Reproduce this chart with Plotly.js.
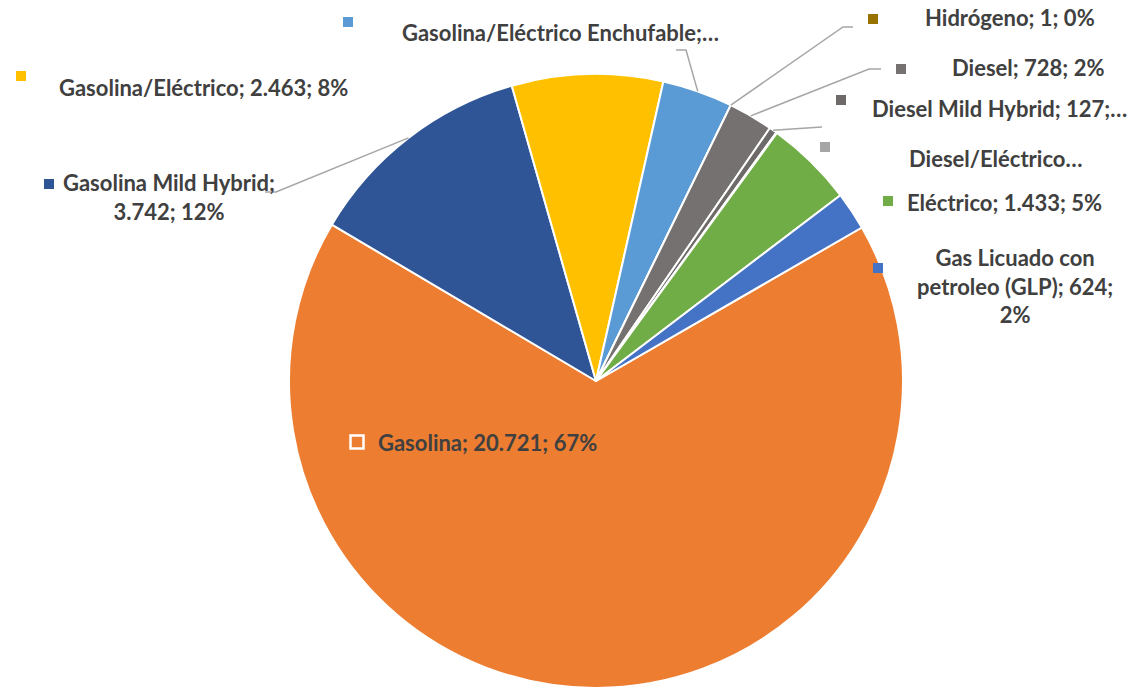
<!DOCTYPE html>
<html>
<head>
<meta charset="utf-8">
<script src="https://cdn.plot.ly/plotly-3.0.1.min.js"></script>
<style>html,body{margin:0;padding:0;overflow:hidden;background:#fff}</style>
</head>
<body>
<div id="chart" style="width:1133px;height:688px"></div>
<script>
// ---- data ----
const categories = ["Gasolina", "Gasolina Mild Hybrid", "Gasolina/Eléctrico", "Gasolina/Eléctrico Enchufable",
  "Hidrógeno", "Diesel", "Diesel Mild Hybrid", "Diesel/Eléctrico", "Eléctrico", "Gas Licuado con petroleo (GLP)"];
const values = [20721, 3742, 2463, 1150, 1, 728, 127, 12, 1433, 624];
const colors = ["#ED7D31", "#2F5597", "#FFC000", "#5B9BD5", "#997300", "#767171", "#6E6A6A", "#A5A5A5", "#70AD47", "#4472C4"];

// ---- geometry / style ----
const W = 1133, H = 688;
const CX = 596, CY = 381, R = 307;
const ROT = 60;
const textColor = "#404040";
const FONT = "Lato, 'Open Sans', sans-serif";
const FS = 22;

const total = values.reduce((a, b) => a + b, 0);
const fmt = v => v.toLocaleString('de-DE');
const pct = v => Math.round(v / total * 100) + "%";
const fullLabel = i => [categories[i], fmt(values[i]), pct(values[i])];

const labelSpec = [
  {i: 0, x: 376, y: 442, key: [357, 442], keyOutline: true},
  {i: 1, x: 169, y: 197, anchor: "center", key: [49, 184], breakAfter: 1, leader: [[276, 192], [265, 192]]},
  {i: 2, x: 57, y: 87, key: [21, 76]},
  {i: 3, x: 400, y: 33, key: [348, 22], parts: 1, leader: [[686, 50], [676, 50]]},
  {i: 4, x: 923, y: 17, key: [873, 19], leader: [[843, 27], [853, 27]]},
  {i: 5, x: 950, y: 67, key: [901, 69], leader: [[869, 69], [881, 69]]},
  {i: 6, x: 870, y: 109, key: [841, 100], parts: 2, leader: [[822, 127]]},
  {i: 7, x: 907, y: 159, key: [825, 147], parts: 0},
  {i: 8, x: 905, y: 202, key: [888, 201]},
  {i: 9, x: 1015, y: 286, anchor: "center", key: [878, 268], glp: true}
];

const midAngle = [];
let cum = 0;
values.forEach(v => { midAngle.push(ROT + (cum + v / 2) / total * 360); cum += v; });
const edgePoint = i => {
  const a = midAngle[i] * Math.PI / 180;
  return [CX + R * Math.sin(a), CY - R * Math.cos(a)];
};
const px = x => x / W, py = y => 1 - y / H;

const annotations = [], shapes = [];
labelSpec.forEach(s => {
  const p = fullLabel(s.i);
  let txt;
  if (s.parts === 0) txt = p[0] + "…";
  else if (s.parts) txt = p.slice(0, s.parts).join("; ") + ";…";
  else if (s.breakAfter) txt = p.slice(0, s.breakAfter).join("; ") + ";<br>" + p.slice(s.breakAfter).join("; ");
  else if (s.glp) {
    const w = p[0].split(" ");
    txt = w.slice(0, 3).join(" ") + "<br>" + w.slice(3).join(" ") + "; " + p[1] + ";<br>" + p[2];
  } else txt = p.join("; ");
  annotations.push({
    xref: "paper", yref: "paper", x: px(s.x), y: py(s.y),
    xanchor: s.anchor || "left", yanchor: "middle", align: s.anchor === "center" ? "center" : "left",
    text: "<b>" + txt + "</b>", showarrow: false,
    font: {family: FONT, size: FS, color: textColor}
  });
  const k = s.keyOutline ? 6.5 : 5;
  shapes.push({
    type: "rect", xref: "paper", yref: "paper",
    x0: px(s.key[0] - k), x1: px(s.key[0] + k), y0: py(s.key[1] - k), y1: py(s.key[1] + k),
    fillcolor: colors[s.i], line: s.keyOutline ? {color: "#ffffff", width: 2.5} : {width: 0}
  });
  if (s.leader) {
    const e = edgePoint(s.i);
    let d = "M" + px(e[0]) + "," + py(e[1]);
    s.leader.forEach(q => { d += " L" + px(q[0]) + "," + py(q[1]); });
    shapes.push({type: "path", xref: "paper", yref: "paper", path: d, line: {color: "#A6A6A6", width: 1.5}, layer: "above"});
  }
});

const trace = {
  type: "pie",
  labels: categories,
  values: values,
  sort: false,
  direction: "clockwise",
  rotation: ROT,
  marker: {colors: colors, line: {color: "#ffffff", width: 2}},
  textinfo: "none",
  hoverinfo: "label+value+percent",
  domain: {x: [(CX - R) / W, (CX + R) / W], y: [py(CY + R), py(CY - R)]},
  showlegend: false
};

Plotly.newPlot("chart", [trace], {
  width: W, height: H,
  margin: {l: 0, r: 0, t: 0, b: 0},
  paper_bgcolor: "#ffffff",
  showlegend: false,
  annotations: annotations,
  shapes: shapes
}, {displayModeBar: false, staticPlot: true});
</script>
</body>
</html>
